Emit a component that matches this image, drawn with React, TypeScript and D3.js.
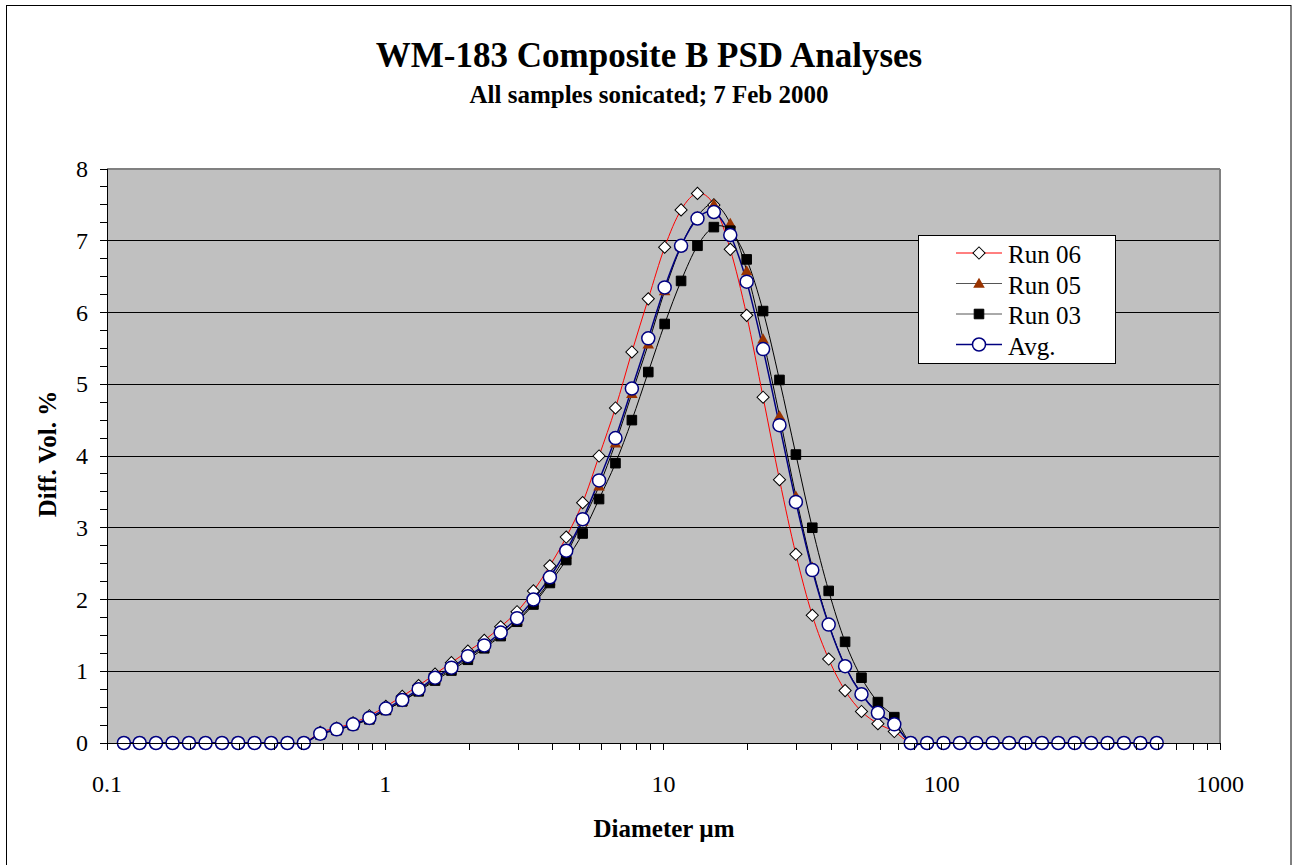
import React from 'react';
import * as d3 from 'd3';

// Particle diameters (µm) of the instrument channels
const diameters = [
  0.115, 0.131, 0.150, 0.172, 0.197, 0.226, 0.259, 0.296, 0.339, 0.389, 0.445, 0.510,
  0.584, 0.669, 0.766, 0.877, 1.005, 1.151, 1.318, 1.510, 1.729, 1.981, 2.269, 2.599,
  2.976, 3.409, 3.905, 4.472, 5.122, 5.867, 6.720, 7.697, 8.816, 10.097, 11.565, 13.246,
  15.172, 17.377, 19.904, 22.797, 26.111, 29.907, 34.255, 39.234, 44.938, 51.471, 58.953, 67.523,
  77.339, 88.583, 101.46, 116.21, 133.10, 152.45, 174.62, 200.00, 229.08, 262.38, 300.52, 344.21,
  394.24, 451.56, 517.20, 592.39,
];

const run06 = [
  0, 0, 0, 0, 0, 0, 0, 0, 0, 0, 0, 0,
  0.15, 0.21, 0.28, 0.38, 0.51, 0.65, 0.80, 0.96, 1.12, 1.28, 1.43, 1.62,
  1.83, 2.12, 2.47, 2.87, 3.35, 4.00, 4.67, 5.45, 6.19, 6.91, 7.43, 7.66,
  7.50, 6.88, 5.96, 4.82, 3.67, 2.63, 1.78, 1.17, 0.73, 0.44, 0.27, 0.16,
  0, 0, 0, 0, 0, 0, 0, 0, 0, 0, 0, 0,
  0, 0, 0, 0,
];

const run05 = [
  0, 0, 0, 0, 0, 0, 0, 0, 0, 0, 0, 0,
  0.13, 0.18, 0.25, 0.34, 0.46, 0.58, 0.73, 0.89, 1.03, 1.19, 1.34, 1.51,
  1.70, 1.96, 2.26, 2.63, 3.09, 3.58, 4.18, 4.87, 5.56, 6.30, 6.92, 7.34,
  7.51, 7.24, 6.58, 5.63, 4.56, 3.44, 2.45, 1.66, 1.08, 0.69, 0.42, 0.27,
  0, 0, 0, 0, 0, 0, 0, 0, 0, 0, 0, 0,
  0, 0, 0, 0,
];

const run03 = [
  0, 0, 0, 0, 0, 0, 0, 0, 0, 0, 0, 0,
  0.12, 0.18, 0.25, 0.33, 0.46, 0.58, 0.72, 0.87, 1.01, 1.16, 1.32, 1.49,
  1.69, 1.93, 2.23, 2.55, 2.92, 3.40, 3.90, 4.50, 5.17, 5.84, 6.44, 6.93,
  7.19, 7.14, 6.74, 6.02, 5.06, 4.02, 3.00, 2.12, 1.41, 0.91, 0.57, 0.36,
  0, 0, 0, 0, 0, 0, 0, 0, 0, 0, 0, 0,
  0, 0, 0, 0,
];

const avg = [
  0, 0, 0, 0, 0, 0, 0, 0, 0, 0, 0, 0,
  0.13, 0.19, 0.26, 0.35, 0.48, 0.60, 0.75, 0.91, 1.05, 1.21, 1.36, 1.54,
  1.74, 2.00, 2.31, 2.68, 3.12, 3.66, 4.25, 4.94, 5.64, 6.35, 6.93, 7.31,
  7.40, 7.08, 6.43, 5.49, 4.43, 3.36, 2.41, 1.65, 1.07, 0.68, 0.42, 0.26,
  0, 0, 0, 0, 0, 0, 0, 0, 0, 0, 0, 0,
  0, 0, 0, 0,
];

const seriesNames = ['Run 06', 'Run 05', 'Run 03', 'Avg.'];
const xTickValues = [0.1, 1, 10, 100, 1000];
const xTickLabels = ['0.1', '1', '10', '100', '1000'];
const yTickValues = [0, 1, 2, 3, 4, 5, 6, 7, 8];

const W = 1292;
const H = 865;
const PL = 107;
const PR = 1220;
const PT = 169;
const PB = 743;
const FONT = '"Liberation Serif", "Times New Roman", serif';

type Marker = 'diamond' | 'triangle' | 'square' | 'circle';

function MarkerShape({ kind, cx, cy }: { kind: Marker; cx: number; cy: number }) {
  if (kind === 'diamond') {
    const p = d3.symbol(d3.symbolSquare, 74)() as string;
    return <path d={p} transform={`translate(${cx},${cy}) rotate(45)`} fill="#FFFFFF" stroke="#000000" strokeWidth={1} />;
  }
  if (kind === 'triangle') {
    const p = d3.symbol(d3.symbolTriangle, 58)() as string;
    return <path d={p} transform={`translate(${cx},${cy + 1})`} fill="#993300" stroke="none" />;
  }
  if (kind === 'square') {
    const p = d3.symbol(d3.symbolSquare, 92)() as string;
    return <path d={p} transform={`translate(${cx},${cy})`} fill="#000000" stroke="#000000" strokeWidth={1} />;
  }
  return <circle cx={cx} cy={cy} r={6.5} fill="#FFFFFF" stroke="#000080" strokeWidth={1.5} />;
}

export default function App() {
  const x = d3.scaleLog().domain([0.1, 1000]).range([PL, PR]);
  const y = d3.scaleLinear().domain([0, 8]).range([PB, PT]);

  const series = [
    { name: seriesNames[0], values: run06, stroke: '#FF0000', sw: 1, marker: 'diamond' as Marker, legendLine: '#FF0000' },
    { name: seriesNames[1], values: run05, stroke: '#000000', sw: 1, marker: 'triangle' as Marker, legendLine: '#555555' },
    { name: seriesNames[2], values: run03, stroke: '#000000', sw: 1, marker: 'square' as Marker, legendLine: '#555555' },
    { name: seriesNames[3], values: avg, stroke: '#000080', sw: 1.5, marker: 'circle' as Marker, legendLine: '#000080' },
  ];

  const lineGen = d3
    .line<number>()
    .x((_, i) => x(diameters[i]))
    .y((d) => y(d))
    .curve(d3.curveCatmullRom.alpha(0));

  const minorX = x.ticks();
  const minorY = d3.range(0, 8.0001, 0.25);
  const gridY = yTickValues.filter((v) => v > 0 && v < 8);

  const legendX = 918;
  const legendY = 235;
  const legendW = 197;
  const legendH = 128;
  const legendRows = [253, 283.5, 314, 344.5];

  return (
    <svg
      width={W}
      height={H}
      style={{ position: 'absolute', left: 0, top: 0, background: '#FFFFFF' }}
      fontFamily={FONT}
    >
      <rect x={0} y={0} width={W} height={H} fill="#FFFFFF" />
      <rect x={6.5} y={5.5} width={1284.5} height={880} fill="none" stroke="#000000" strokeWidth={1} />

      {/* Titles */}
      <text x={649} y={67} textAnchor="middle" fontSize={35} fontWeight="bold" fill="#000">
        WM-183 Composite B PSD Analyses
      </text>
      <text x={649} y={103} textAnchor="middle" fontSize={25} fontWeight="bold" fill="#000">
        All samples sonicated; 7 Feb 2000
      </text>

      {/* Plot area */}
      <rect x={PL} y={PT} width={PR - PL} height={PB - PT} fill="#C0C0C0" />
      {gridY.map((v) => (
        <line key={`g${v}`} x1={PL} x2={PR} y1={y(v)} y2={y(v)} stroke="#000000" strokeWidth={1} shapeRendering="crispEdges" />
      ))}
      <line x1={PL} x2={PR} y1={PT} y2={PT} stroke="#808080" strokeWidth={1.5} shapeRendering="crispEdges" />
      <line x1={PR} x2={PR} y1={PT} y2={PB} stroke="#808080" strokeWidth={1.5} shapeRendering="crispEdges" />

      {/* Series lines */}
      {series.map((s) => (
        <path key={`l${s.name}`} d={lineGen(s.values) as string} fill="none" stroke={s.stroke} strokeWidth={s.sw} />
      ))}
      {/* Series markers */}
      {series.map((s) => (
        <g key={`m${s.name}`}>
          {s.values.map((v, i) => (
            <MarkerShape key={i} kind={s.marker} cx={x(diameters[i])} cy={y(v)} />
          ))}
        </g>
      ))}

      {/* Axes */}
      <line x1={PL} x2={PL} y1={PT} y2={PB} stroke="#000" strokeWidth={1} shapeRendering="crispEdges" />
      <line x1={PL} x2={PR} y1={PB} y2={PB} stroke="#000" strokeWidth={1} shapeRendering="crispEdges" />
      {minorY.map((v) => (
        <line key={`yt${v}`} x1={PL - 7} x2={PL} y1={y(v)} y2={y(v)} stroke="#000" strokeWidth={1} shapeRendering="crispEdges" />
      ))}
      {minorX.map((v, i) => (
        <line key={`xt${i}`} x1={x(v)} x2={x(v)} y1={PB} y2={PB + 7} stroke="#000" strokeWidth={1} shapeRendering="crispEdges" />
      ))}
      {yTickValues.map((v) => (
        <text key={`yl${v}`} x={88} y={y(v) + 8} textAnchor="end" fontSize={24} fill="#000">
          {v}
        </text>
      ))}
      {xTickValues.map((v, i) => (
        <text key={`xl${v}`} x={x(v)} y={792} textAnchor="middle" fontSize={24} fill="#000">
          {xTickLabels[i]}
        </text>
      ))}

      {/* Axis titles */}
      <text x={664} y={837} textAnchor="middle" fontSize={25} fontWeight="bold" fill="#000">
        Diameter µm
      </text>
      <text
        transform={`translate(56,454) rotate(-90)`}
        textAnchor="middle"
        fontSize={25}
        fontWeight="bold"
        fill="#000"
      >
        Diff. Vol. %
      </text>

      {/* Legend */}
      <rect x={legendX} y={legendY} width={legendW} height={legendH} fill="#FFFFFF" stroke="#000" strokeWidth={1} shapeRendering="crispEdges" />
      {series.map((s, i) => (
        <g key={`lg${s.name}`}>
          <line x1={956} x2={1002} y1={legendRows[i]} y2={legendRows[i]} stroke={s.legendLine} strokeWidth={s.sw} />
          <MarkerShape kind={s.marker} cx={979} cy={legendRows[i]} />
          <text x={1008} y={legendRows[i] + 10} fontSize={25} fill="#000">
            {s.name}
          </text>
        </g>
      ))}
    </svg>
  );
}
